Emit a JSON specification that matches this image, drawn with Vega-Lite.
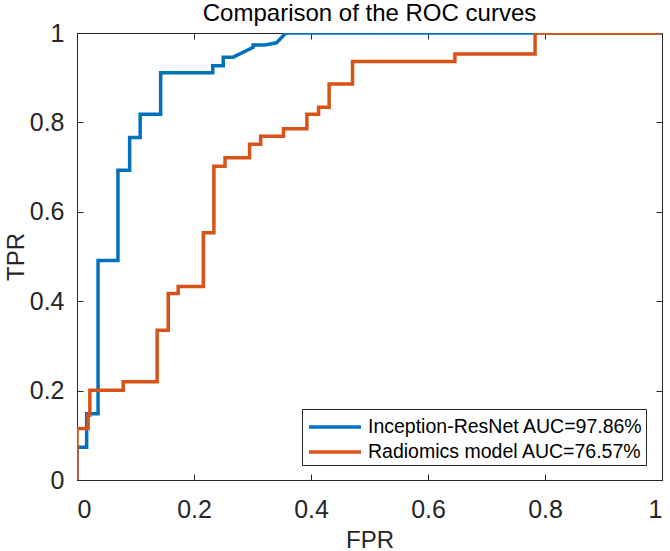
{
  "$schema": "https://vega.github.io/schema/vega-lite/v6.json",
  "autosize": "none",
  "width": 585,
  "height": 447,
  "padding": {"left": 77, "top": 33, "right": 8, "bottom": 71},
  "background": "white",
  "config": {
    "font": "Liberation Sans",
    "view": {"stroke": "#262626", "strokeWidth": 1},
    "axis": {"grid": false, "domainColor": "#262626", "tickColor": "#262626", "labelColor": "#262626", "titleColor": "#262626", "labelFont": "Liberation Sans", "titleFont": "Liberation Sans", "labelFontSize": 25, "titleFontSize": 24, "titleFontWeight": "normal", "tickSize": -6}
  },
  "title": {"text": "Comparison of the ROC curves", "fontSize": 24, "fontWeight": "normal", "color": "#000000", "font": "Liberation Sans", "offset": 8, "dy": 13},
  "datasets": {
    "roc": [
      {"model": "Inception-ResNet AUC=97.86%", "i": 0, "fpr": 0, "tpr": 0},
      {"model": "Inception-ResNet AUC=97.86%", "i": 1, "fpr": 0, "tpr": 0.073},
      {"model": "Inception-ResNet AUC=97.86%", "i": 2, "fpr": 0.0165, "tpr": 0.073},
      {"model": "Inception-ResNet AUC=97.86%", "i": 3, "fpr": 0.0165, "tpr": 0.148},
      {"model": "Inception-ResNet AUC=97.86%", "i": 4, "fpr": 0.036, "tpr": 0.148},
      {"model": "Inception-ResNet AUC=97.86%", "i": 5, "fpr": 0.036, "tpr": 0.491},
      {"model": "Inception-ResNet AUC=97.86%", "i": 6, "fpr": 0.07, "tpr": 0.491},
      {"model": "Inception-ResNet AUC=97.86%", "i": 7, "fpr": 0.07, "tpr": 0.693},
      {"model": "Inception-ResNet AUC=97.86%", "i": 8, "fpr": 0.09, "tpr": 0.693},
      {"model": "Inception-ResNet AUC=97.86%", "i": 9, "fpr": 0.09, "tpr": 0.766},
      {"model": "Inception-ResNet AUC=97.86%", "i": 10, "fpr": 0.108, "tpr": 0.766},
      {"model": "Inception-ResNet AUC=97.86%", "i": 11, "fpr": 0.108, "tpr": 0.818},
      {"model": "Inception-ResNet AUC=97.86%", "i": 12, "fpr": 0.143, "tpr": 0.818},
      {"model": "Inception-ResNet AUC=97.86%", "i": 13, "fpr": 0.143, "tpr": 0.911},
      {"model": "Inception-ResNet AUC=97.86%", "i": 14, "fpr": 0.232, "tpr": 0.911},
      {"model": "Inception-ResNet AUC=97.86%", "i": 15, "fpr": 0.232, "tpr": 0.927},
      {"model": "Inception-ResNet AUC=97.86%", "i": 16, "fpr": 0.25, "tpr": 0.927},
      {"model": "Inception-ResNet AUC=97.86%", "i": 17, "fpr": 0.25, "tpr": 0.946},
      {"model": "Inception-ResNet AUC=97.86%", "i": 18, "fpr": 0.267, "tpr": 0.946},
      {"model": "Inception-ResNet AUC=97.86%", "i": 19, "fpr": 0.284, "tpr": 0.957},
      {"model": "Inception-ResNet AUC=97.86%", "i": 20, "fpr": 0.301, "tpr": 0.968},
      {"model": "Inception-ResNet AUC=97.86%", "i": 21, "fpr": 0.301, "tpr": 0.973},
      {"model": "Inception-ResNet AUC=97.86%", "i": 22, "fpr": 0.321, "tpr": 0.973},
      {"model": "Inception-ResNet AUC=97.86%", "i": 23, "fpr": 0.341, "tpr": 0.978},
      {"model": "Inception-ResNet AUC=97.86%", "i": 24, "fpr": 0.357, "tpr": 1},
      {"model": "Inception-ResNet AUC=97.86%", "i": 25, "fpr": 1, "tpr": 1},
      {"model": "Radiomics model AUC=76.57%", "i": 0, "fpr": 0, "tpr": 0},
      {"model": "Radiomics model AUC=76.57%", "i": 1, "fpr": 0, "tpr": 0.115},
      {"model": "Radiomics model AUC=76.57%", "i": 2, "fpr": 0.019, "tpr": 0.115},
      {"model": "Radiomics model AUC=76.57%", "i": 3, "fpr": 0.019, "tpr": 0.145},
      {"model": "Radiomics model AUC=76.57%", "i": 4, "fpr": 0.022, "tpr": 0.145},
      {"model": "Radiomics model AUC=76.57%", "i": 5, "fpr": 0.022, "tpr": 0.201},
      {"model": "Radiomics model AUC=76.57%", "i": 6, "fpr": 0.079, "tpr": 0.201},
      {"model": "Radiomics model AUC=76.57%", "i": 7, "fpr": 0.079, "tpr": 0.22},
      {"model": "Radiomics model AUC=76.57%", "i": 8, "fpr": 0.137, "tpr": 0.22},
      {"model": "Radiomics model AUC=76.57%", "i": 9, "fpr": 0.137, "tpr": 0.335},
      {"model": "Radiomics model AUC=76.57%", "i": 10, "fpr": 0.156, "tpr": 0.335},
      {"model": "Radiomics model AUC=76.57%", "i": 11, "fpr": 0.156, "tpr": 0.417},
      {"model": "Radiomics model AUC=76.57%", "i": 12, "fpr": 0.173, "tpr": 0.417},
      {"model": "Radiomics model AUC=76.57%", "i": 13, "fpr": 0.173, "tpr": 0.433},
      {"model": "Radiomics model AUC=76.57%", "i": 14, "fpr": 0.216, "tpr": 0.433},
      {"model": "Radiomics model AUC=76.57%", "i": 15, "fpr": 0.216, "tpr": 0.553},
      {"model": "Radiomics model AUC=76.57%", "i": 16, "fpr": 0.234, "tpr": 0.553},
      {"model": "Radiomics model AUC=76.57%", "i": 17, "fpr": 0.234, "tpr": 0.702},
      {"model": "Radiomics model AUC=76.57%", "i": 18, "fpr": 0.253, "tpr": 0.702},
      {"model": "Radiomics model AUC=76.57%", "i": 19, "fpr": 0.253, "tpr": 0.721},
      {"model": "Radiomics model AUC=76.57%", "i": 20, "fpr": 0.295, "tpr": 0.721},
      {"model": "Radiomics model AUC=76.57%", "i": 21, "fpr": 0.295, "tpr": 0.751},
      {"model": "Radiomics model AUC=76.57%", "i": 22, "fpr": 0.314, "tpr": 0.751},
      {"model": "Radiomics model AUC=76.57%", "i": 23, "fpr": 0.314, "tpr": 0.769},
      {"model": "Radiomics model AUC=76.57%", "i": 24, "fpr": 0.353, "tpr": 0.769},
      {"model": "Radiomics model AUC=76.57%", "i": 25, "fpr": 0.353, "tpr": 0.786},
      {"model": "Radiomics model AUC=76.57%", "i": 26, "fpr": 0.393, "tpr": 0.786},
      {"model": "Radiomics model AUC=76.57%", "i": 27, "fpr": 0.393, "tpr": 0.818},
      {"model": "Radiomics model AUC=76.57%", "i": 28, "fpr": 0.413, "tpr": 0.818},
      {"model": "Radiomics model AUC=76.57%", "i": 29, "fpr": 0.413, "tpr": 0.834},
      {"model": "Radiomics model AUC=76.57%", "i": 30, "fpr": 0.431, "tpr": 0.834},
      {"model": "Radiomics model AUC=76.57%", "i": 31, "fpr": 0.431, "tpr": 0.886},
      {"model": "Radiomics model AUC=76.57%", "i": 32, "fpr": 0.471, "tpr": 0.886},
      {"model": "Radiomics model AUC=76.57%", "i": 33, "fpr": 0.471, "tpr": 0.936},
      {"model": "Radiomics model AUC=76.57%", "i": 34, "fpr": 0.646, "tpr": 0.936},
      {"model": "Radiomics model AUC=76.57%", "i": 35, "fpr": 0.646, "tpr": 0.953},
      {"model": "Radiomics model AUC=76.57%", "i": 36, "fpr": 0.783, "tpr": 0.953},
      {"model": "Radiomics model AUC=76.57%", "i": 37, "fpr": 0.783, "tpr": 1},
      {"model": "Radiomics model AUC=76.57%", "i": 38, "fpr": 1, "tpr": 1}
    ]
  },
  "data": {"name": "roc"},
  "layer": [
    {
      "mark": {"type": "line", "strokeWidth": 3.5, "clip": true},
      "encoding": {
        "x": {"field": "fpr", "type": "quantitative", "scale": {"domain": [0, 1], "nice": false}, "axis": {"values": [0, 0.2, 0.4, 0.6, 0.8, 1], "title": "FPR", "labelPadding": 23, "titlePadding": 6, "format": "~g"}},
        "y": {"field": "tpr", "type": "quantitative", "scale": {"domain": [0, 1], "nice": false}, "axis": {"values": [0, 0.2, 0.4, 0.6, 0.8, 1], "title": "TPR", "labelPadding": 19, "titlePadding": 1, "format": "~g"}},
        "color": {"field": "model", "type": "nominal", "scale": {"domain": ["Inception-ResNet AUC=97.86%", "Radiomics model AUC=76.57%"], "range": ["#0072BD", "#D95319"]},
          "legend": {"title": null, "orient": "none", "legendX": 225, "legendY": 376, "strokeColor": "#262626", "fillColor": "white", "padding": 3, "symbolType": "M-2,0H2", "symbolSize": 676, "symbolStrokeWidth": 3.5, "symbolOffset": 15, "labelFontSize": 19.5, "labelLimit": 500, "labelFont": "Liberation Sans", "labelColor": "#000000", "rowPadding": 0, "labelOffset": 18}},
        "order": {"field": "i", "type": "quantitative"}
      }
    },
    {
      "mark": {"type": "line", "strokeOpacity": 0},
      "encoding": {
        "x": {"field": "fpr", "type": "quantitative", "axis": {"orient": "top", "values": [0, 0.2, 0.4, 0.6, 0.8, 1], "labels": false, "title": null}},
        "y": {"field": "tpr", "type": "quantitative", "axis": {"orient": "right", "values": [0, 0.2, 0.4, 0.6, 0.8, 1], "labels": false, "title": null}},
        "detail": {"field": "model"}
      }
    }
  ],
  "resolve": {"axis": {"x": "independent", "y": "independent"}}
}
